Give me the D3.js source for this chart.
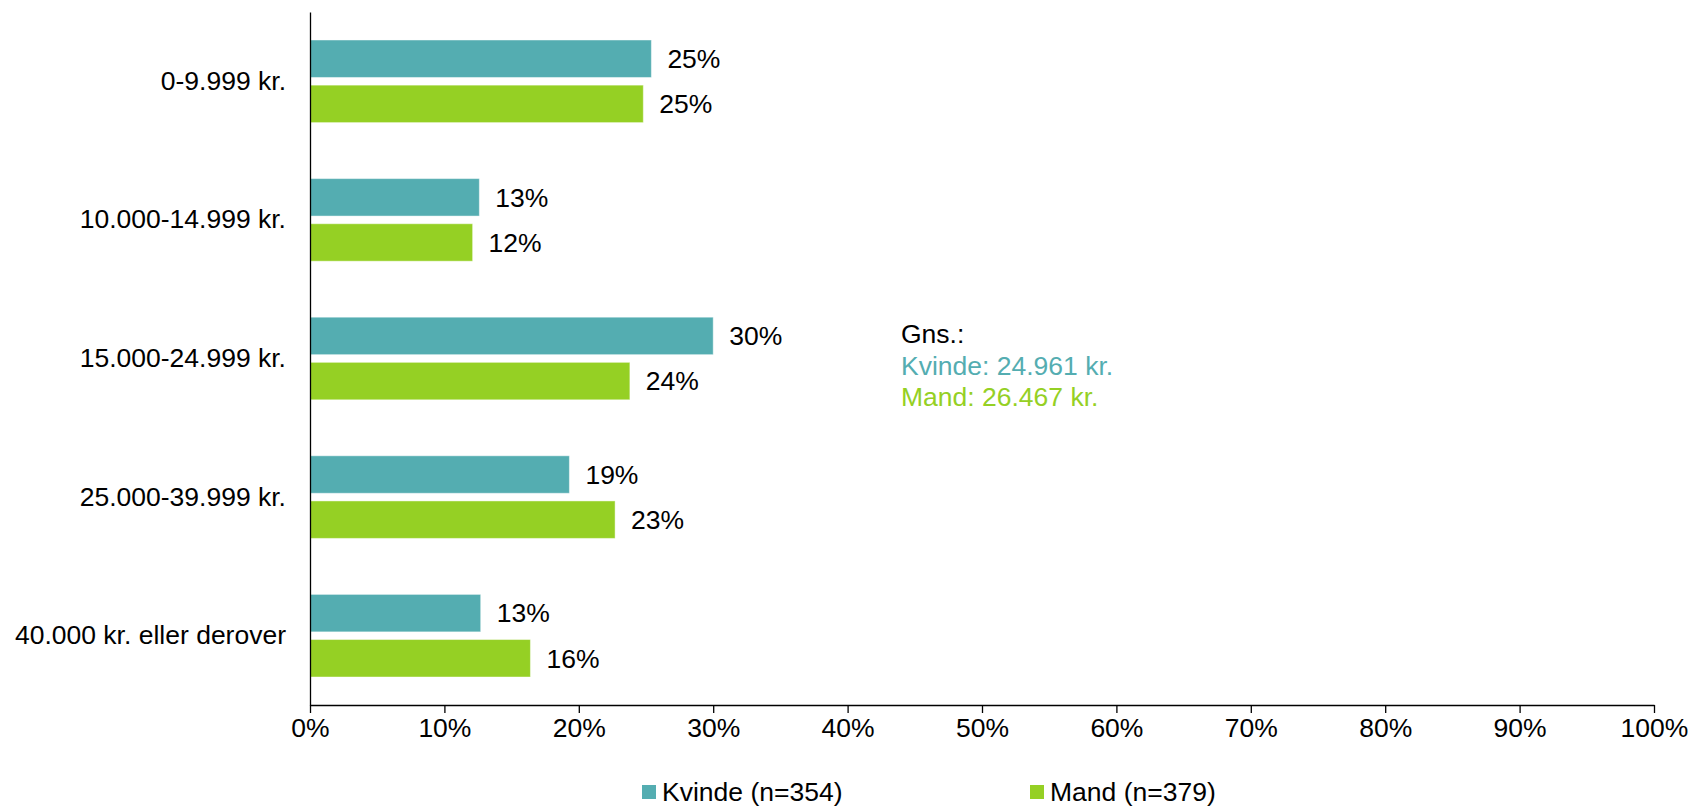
<!DOCTYPE html>
<html>
<head>
<meta charset="utf-8">
<script src="https://cdn.jsdelivr.net/npm/d3@7"></script>
<style>
  html, body { margin: 0; padding: 0; background: #fff; }
  svg { display: block; font-family: "Liberation Sans", Arial, sans-serif; }
</style>
</head>
<body>
<svg id="chart" width="1694" height="809"></svg>
<script>
const categories = ["0-9.999 kr.", "10.000-14.999 kr.", "15.000-24.999 kr.", "25.000-39.999 kr.", "40.000 kr. eller derover"];
const seriesNames = ["Kvinde (n=354)", "Mand (n=379)"];
const kvindeValues = [25.4, 12.6, 30.0, 19.3, 12.7];
const mandValues = [24.8, 12.1, 23.8, 22.7, 16.4];
const xTicks = [0, 10, 20, 30, 40, 50, 60, 70, 80, 90, 100];
const seriesColors = ["#54adb1", "#95d024"];
const annotationLines = ["Gns.:", "Kvinde: 24.961 kr.", "Mand: 26.467 kr."];

(function () {
const svg = d3.select("#chart");
const fontSize = 26.5;
const plotLeft = 310, plotRight = 1654, plotTop = 12, plotBottom = 705;

const x = d3.scaleLinear().domain([0, 100]).range([plotLeft, plotRight]);
const y = d3.scaleBand().domain(categories).range([plotTop, plotBottom]).padding(0);
const bw = y.bandwidth();
const yInner = d3.scaleBand().domain(seriesNames)
  .range([bw * 0.202, bw * 0.798]).paddingInner(0.17);

const seriesData = [kvindeValues, mandValues];

// bars
seriesNames.forEach((s, si) => {
  const g = svg.append("g");
  g.selectAll("rect").data(categories).enter().append("rect")
    .attr("x", x(0))
    .attr("y", c => y(c) + yInner(s))
    .attr("width", (c, i) => x(seriesData[si][i]) - x(0))
    .attr("height", yInner.bandwidth())
    .attr("fill", seriesColors[si])
    .attr("stroke", "rgba(255,255,255,0.45)")
    .attr("stroke-width", 1);
  g.selectAll("text").data(categories).enter().append("text")
    .attr("x", (c, i) => x(seriesData[si][i]) + 16)
    .attr("y", c => y(c) + yInner(s) + yInner.bandwidth() / 2)
    .attr("dy", "0.35em")
    .attr("font-size", fontSize)
    .attr("fill", "#000")
    .text((c, i) => Math.round(seriesData[si][i]) + "%");
});

// x axis
const xAxis = d3.axisBottom(x).tickValues(xTicks).tickFormat(d => d + "%").tickSize(8).tickSizeOuter(0);
const gx = svg.append("g").attr("transform", `translate(0,${plotBottom})`).call(xAxis);
gx.select(".domain").attr("stroke", "#000").attr("stroke-width", 1.3);
gx.selectAll(".tick line").attr("stroke", "#000").attr("stroke-width", 1.3);
gx.selectAll(".tick text").attr("font-size", fontSize).attr("font-family", "Liberation Sans, Arial, sans-serif")
  .attr("fill", "#000").attr("y", 13).attr("dy", "0.71em");

// y axis
const yAxis = d3.axisLeft(y).tickSize(0).tickPadding(24);
const gy = svg.append("g").attr("transform", `translate(${plotLeft},0)`).call(yAxis);
gy.select(".domain").attr("stroke", "#000").attr("stroke-width", 1.3);
gy.selectAll(".tick text").attr("font-size", fontSize).attr("font-family", "Liberation Sans, Arial, sans-serif")
  .attr("fill", "#000");

// annotation
const annColors = ["#000", seriesColors[0], seriesColors[1]];
svg.append("g").selectAll("text").data(annotationLines).enter().append("text")
  .attr("x", 901)
  .attr("y", (d, i) => 343 + i * 31.5)
  .attr("font-size", fontSize)
  .attr("fill", (d, i) => annColors[i])
  .text(d => d);

// legend
const legendX = [642, 1030];
const lg = svg.append("g");
seriesNames.forEach((s, i) => {
  lg.append("rect").attr("x", legendX[i]).attr("y", 785).attr("width", 14).attr("height", 14)
    .attr("fill", seriesColors[i]);
  lg.append("text").attr("x", legendX[i] + 20).attr("y", 792).attr("dy", "0.35em")
    .attr("font-size", fontSize).attr("fill", "#000").text(s);
});
})();
</script>
</body>
</html>
